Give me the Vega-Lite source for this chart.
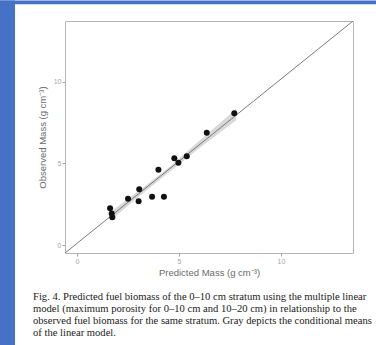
{
  "$schema": "https://vega.github.io/schema/vega-lite/v6.json",
  "width": 288,
  "height": 232,
  "autosize": {"type": "none"},
  "padding": {"left": 65, "top": 21, "right": 23, "bottom": 92},
  "background": "white",
  "title": {
    "text": [
      "Fig. 4. Predicted fuel biomass of the 0–10 cm stratum using the multiple linear",
      "model (maximum porosity for 0–10 cm and 10–20 cm) in relationship to the",
      "observed fuel biomass for the same stratum. Gray depicts the conditional means",
      "of the linear model."
    ],
    "orient": "bottom",
    "anchor": "start",
    "frame": "group",
    "dx": -32,
    "offset": -53,
    "font": "Liberation Serif",
    "fontSize": 10.6,
    "fontWeight": "normal",
    "lineHeight": 12,
    "color": "#1a1a1a"
  },
  "config": {
    "view": {"stroke": "#b5b5b5", "strokeWidth": 1},
    "axis": {
      "domain": false,
      "grid": false,
      "tickColor": "#a5a5a5",
      "tickSize": 3,
      "labelFont": "Liberation Sans",
      "labelFontSize": 7,
      "labelColor": "#a5a5a5",
      "labelPadding": 1,
      "titleFont": "Liberation Sans",
      "titleFontSize": 9.5,
      "titleFontWeight": "normal",
      "titleColor": "#6a6a6a"
    }
  },
  "datasets": {
    "points": [
      {"predicted": 1.62, "observed": 2.25},
      {"predicted": 1.70, "observed": 1.94},
      {"predicted": 1.73, "observed": 1.70},
      {"predicted": 2.50, "observed": 2.84},
      {"predicted": 3.02, "observed": 2.68},
      {"predicted": 3.05, "observed": 3.42},
      {"predicted": 3.68, "observed": 2.96},
      {"predicted": 3.99, "observed": 4.62},
      {"predicted": 4.26, "observed": 2.96},
      {"predicted": 4.77, "observed": 5.32},
      {"predicted": 4.97, "observed": 5.05},
      {"predicted": 5.38, "observed": 5.44},
      {"predicted": 6.36, "observed": 6.89},
      {"predicted": 7.71, "observed": 8.08}
    ],
    "band": [
      {"predicted": 1.6, "lo": 1.45, "hi": 2.0},
      {"predicted": 3.0, "lo": 2.95, "hi": 3.3},
      {"predicted": 4.5, "lo": 4.45, "hi": 4.75},
      {"predicted": 6.0, "lo": 5.95, "hi": 6.4},
      {"predicted": 7.8, "lo": 7.65, "hi": 8.35}
    ],
    "diagonal": [
      {"predicted": -0.59, "observed": -0.49},
      {"predicted": 13.53, "observed": 13.74}
    ],
    "page": [{"part": "margin"}]
  },
  "layer": [
    {
      "data": {"name": "page"},
      "mark": {"type": "rect", "color": "#4672c6", "clip": false},
      "encoding": {
        "x": {"datum": -3.8, "type": "quantitative"},
        "x2": {"datum": -3.04},
        "y": {"datum": 15.0, "type": "quantitative"},
        "y2": {"datum": -6.15}
      }
    },
    {
      "data": {"name": "page"},
      "mark": {"type": "rect", "color": "#4672c6", "clip": false},
      "encoding": {
        "x": {"datum": -3.8, "type": "quantitative"},
        "x2": {"datum": 14.7},
        "y": {"datum": 15.0, "type": "quantitative"},
        "y2": {"datum": 14.77}
      }
    },
    {
      "data": {"name": "band"},
      "mark": {"type": "area", "color": "#d6d6d6", "opacity": 0.95},
      "encoding": {
        "x": {"field": "predicted", "type": "quantitative"},
        "y": {"field": "lo", "type": "quantitative"},
        "y2": {"field": "hi"}
      }
    },
    {
      "data": {"name": "diagonal"},
      "mark": {"type": "line", "color": "#7a7a7a", "strokeWidth": 1, "clip": true},
      "encoding": {
        "x": {"field": "predicted", "type": "quantitative"},
        "y": {"field": "observed", "type": "quantitative"}
      }
    },
    {
      "data": {"name": "points"},
      "mark": {"type": "circle", "color": "#111111", "opacity": 1, "size": 36},
      "encoding": {
        "x": {
          "field": "predicted",
          "type": "quantitative",
          "scale": {"domain": [-0.59, 13.53], "nice": false, "zero": false},
          "axis": {"values": [0, 5, 10], "title": "Predicted Mass  (g cm⁻³)", "titlePadding": 3}
        },
        "y": {
          "field": "observed",
          "type": "quantitative",
          "scale": {"domain": [-0.49, 13.74], "nice": false, "zero": false},
          "axis": {"values": [0, 5, 10], "title": "Observed Mass  (g cm⁻³)", "titlePadding": 6}
        }
      }
    }
  ]
}
